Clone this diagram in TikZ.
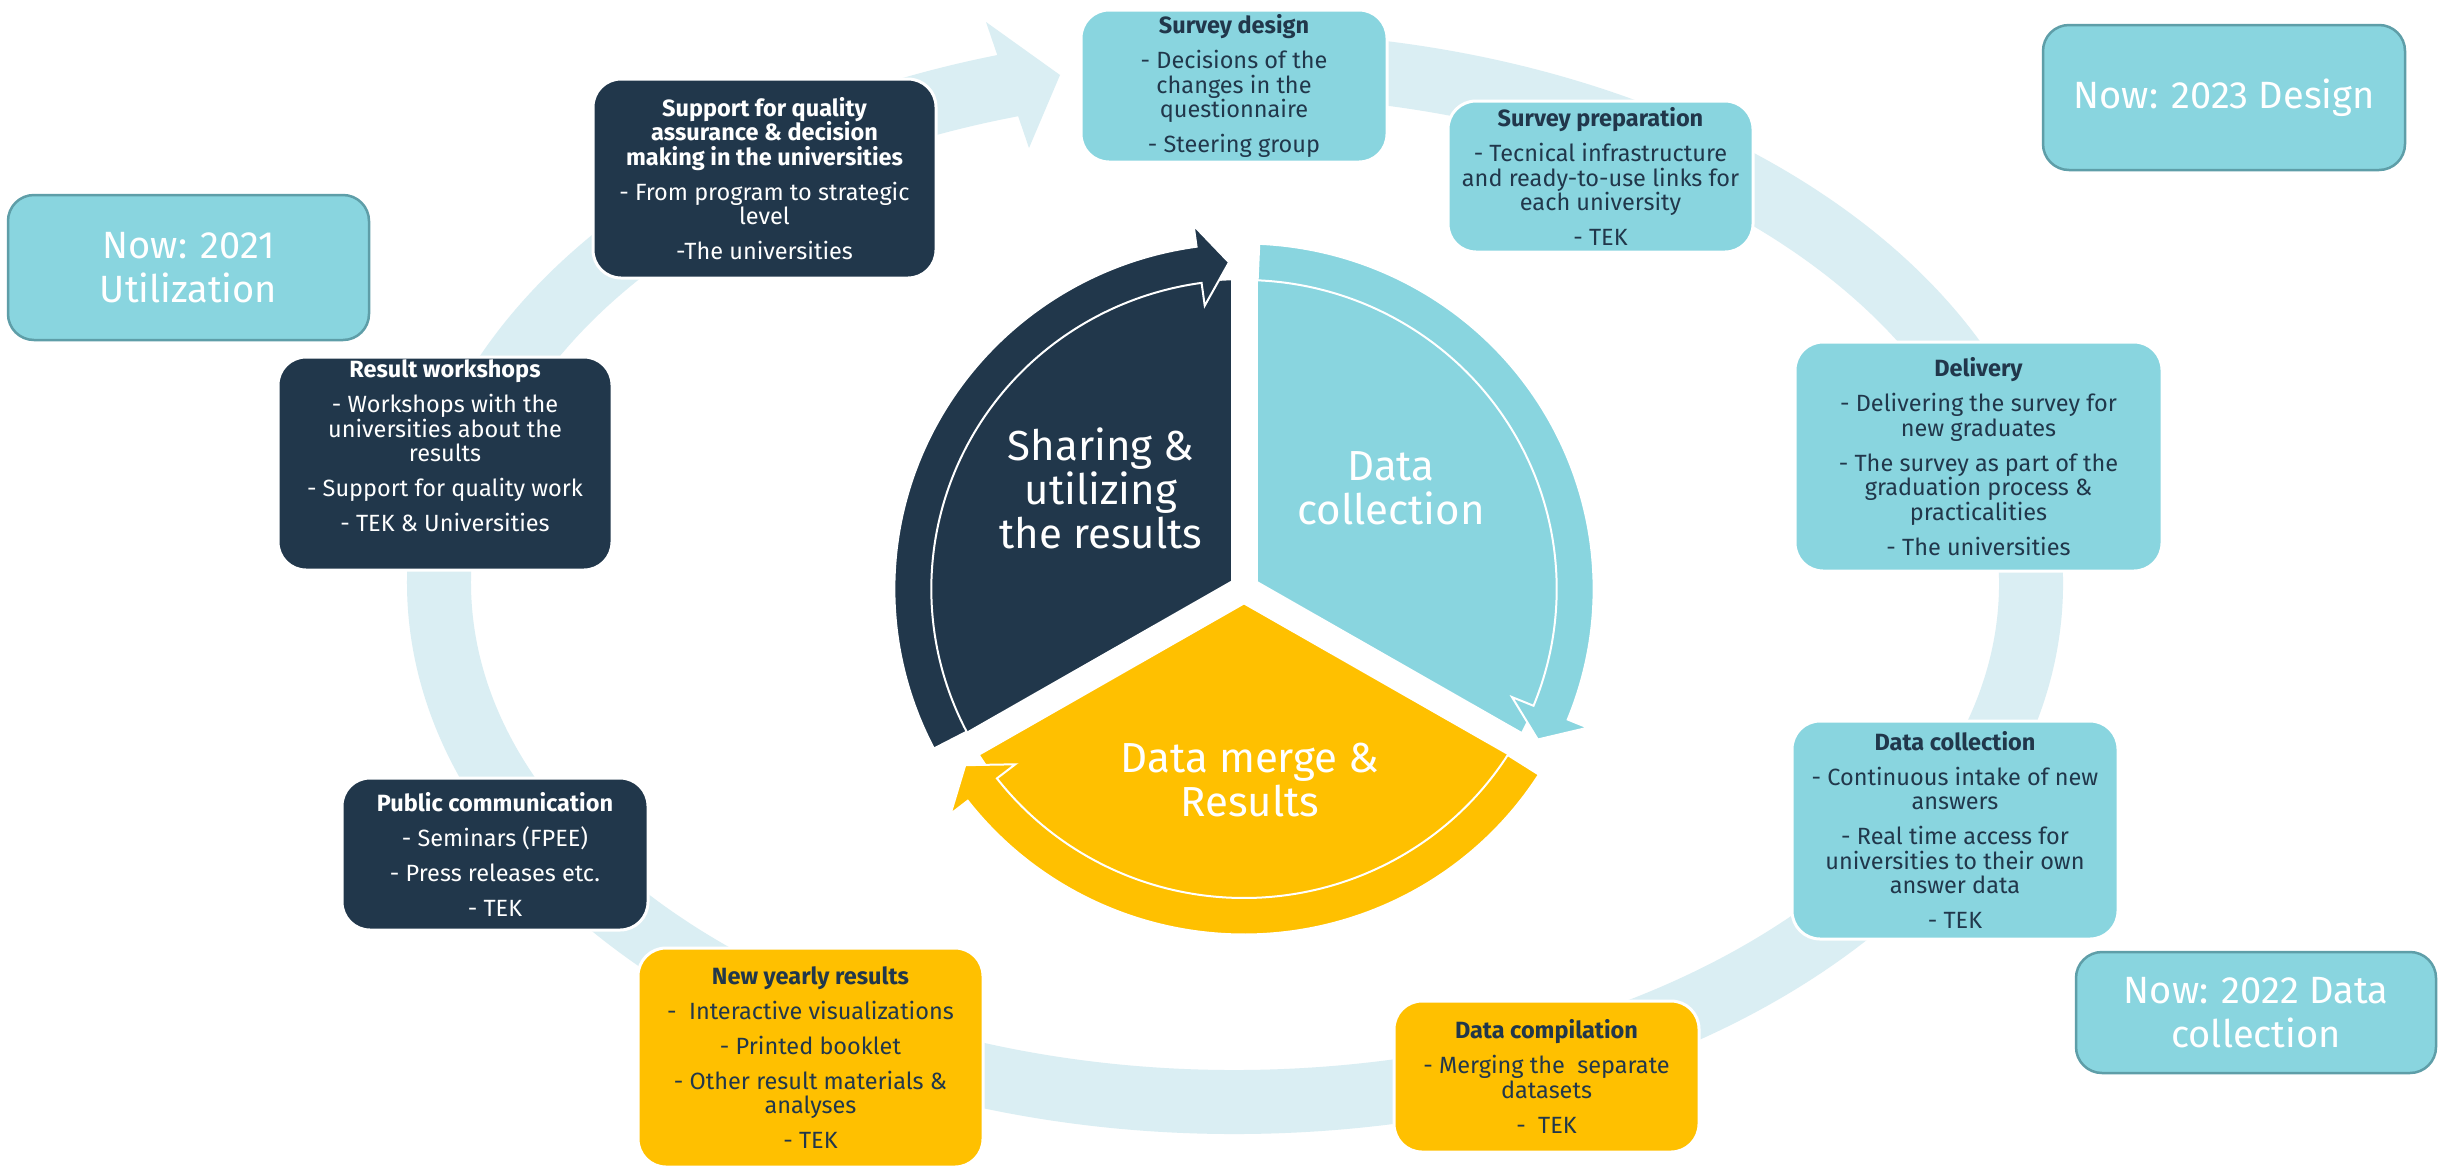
\documentclass[tikz,border=0pt]{standalone}
\usepackage{fontspec}
\setmainfont{Fira Sans}
\definecolor{navy}{HTML}{21374B}
\definecolor{lblue}{HTML}{89D5DF}
\definecolor{gold}{HTML}{FFC000}
\definecolor{ringc}{HTML}{DAEEF3}
\definecolor{nowedge}{HTML}{5E9EA8}
\newcommand\pieseg[3]{%
 \pgfmathsetmacro\aS{#2-2.5}%
 \pgfmathsetmacro\aB{#3+7.8}%
 \pgfmathsetmacro\aT{#3+2.6}%
 \fill[#1] (0,0) -- (#3:309) arc[start angle=#3, end angle=#2, radius=309] -- cycle;
 \filldraw[fill=#1, draw=white, line width=2pt] (\aS:309) arc[start angle=\aS, end angle=\aB, radius=309]
   -- (\aB:286) -- (\aT:327) -- (\aB:367) -- (\aB:345.5)
   arc[start angle=\aB, end angle=\aS, radius=345.5] -- cycle;}
\begin{document}
\begin{tikzpicture}[x=1pt,y=1pt,
 box/.style={rounded corners=28pt, draw=white, line width=3pt, align=center, inner sep=0pt,
   font=\fontsize{23.5}{24.5}\selectfont},
 lbox/.style={box, fill=lblue, text=navy},
 dbox/.style={box, fill=navy, text=white},
 ybox/.style={box, fill=gold, text=navy},
 nowbox/.style={rounded corners=26pt, fill=lblue, draw=nowedge, line width=2.5pt, text=white,
   align=center, inner sep=0pt, font=\fontsize{38}{44}\selectfont},
 pietext/.style={text=white, align=center, font=\fontsize{42}{44}\selectfont},
]
\useasboundingbox (0,0) rectangle (2445,-1168);
\fill[white] (0,0) rectangle (2445,-1168);

% background cycle ring
\coordinate (ringC) at (1235,-583);
\draw[ringc, line width=64pt] (ringC) ++(95:796 and 519)
  arc[start angle=95, end angle=-254.5, x radius=796, y radius=519];
\coordinate (rb1) at (986,-22);
\coordinate (rtip) at (1060,-75);
\coordinate (rb2) at (1029,-148);
\fill[ringc] (rb1) -- (rtip) -- (rb2) -- cycle;

% central pie
\coordinate (pieC) at (1244,-589);
\begin{scope}[shift={(pieC)}, xscale=1.012]
 \pieseg{navy}{210}{90}
 \pieseg{lblue}{90}{-30}
 \pieseg{gold}{330}{210}
 \draw[white, line width=27pt] (0,0) -- (90:400);
 \draw[white, line width=27pt] (0,0) -- (210:400);
 \draw[white, line width=27pt] (0,0) -- (330:400);
\end{scope}
\node[pietext] (share) at (1101,-488) {Sharing \&\\utilizing\\the results};
\node[pietext] (dcol) at (1391,-488) {Data\\collection};
\node[pietext] (dmerge) at (1250,-780) {Data merge \&\\Results};

% step boxes
\node[lbox, minimum width=306pt, minimum height=152pt] (sd) at (1234,-86)
 {\textbf{Survey design}\\[10.5pt]- Decisions of the\\changes in the\\questionnaire\\[10.5pt]- Steering group};
\node[lbox, minimum width=305pt, minimum height=151pt] (sp) at (1600.5,-176.5)
 {\textbf{Survey preparation}\\[10.5pt]- Tecnical infrastructure\\and ready-to-use links for\\each university\\[10.5pt]- TEK};
\node[lbox, minimum width=367pt, minimum height=229pt] (del) at (1978.5,-456.5)
 {\textbf{Delivery}\\[10.5pt]- Delivering the survey for\\new graduates\\[10.5pt]- The survey as part of the\\graduation process \&\\practicalities\\[10.5pt]- The universities};
\node[lbox, minimum width=326pt, minimum height=218pt] (dc) at (1955,-830)
 {\textbf{Data collection}\\[10.5pt]- Continuous intake of new\\answers\\[10.5pt]- Real time access for\\universities to their own\\answer data\\[10.5pt]- TEK};
\node[ybox, minimum width=305pt, minimum height=151pt] (comp) at (1546.5,-1076.5)
 {\textbf{Data compilation}\\[10.5pt]- Merging the\ \ separate\\datasets\\[10.5pt]-\ \ TEK};
\node[ybox, minimum width=345pt, minimum height=219pt] (nyr) at (810.5,-1057.5)
 {\textbf{New yearly results}\\[10.5pt]-\ \ Interactive visualizations\\[10.5pt]- Printed booklet\\[10.5pt]- Other result materials \&\\analyses\\[10.5pt]- TEK};
\node[dbox, minimum width=306pt, minimum height=152pt] (pub) at (495,-854)
 {\textbf{Public communication}\\[10.5pt]- Seminars (FPEE)\\[10.5pt]- Press releases etc.\\[10.5pt]- TEK};
\node[dbox, minimum width=334pt, minimum height=213pt] (rw) at (445,-463.5)
 {\textbf{Result workshops}\\[10.5pt]- Workshops with the\\universities about the\\results\\[10.5pt]- Support for quality work\\[10.5pt]- TEK \& Universities\\[10.5pt]\mbox{}};
\node[dbox, minimum width=343pt, minimum height=199pt] (sup) at (764.5,-178.5)
 {\textbf{Support for quality}\\\textbf{assurance \& decision}\\\textbf{making in the universities}\\[10.5pt]- From program to strategic\\level\\[10.5pt]-The universities};

% status boxes
\node[nowbox, minimum width=362pt, minimum height=145pt] (now23) at (2224,-97.5) {Now: 2023 Design};
\node[nowbox, minimum width=361pt, minimum height=145pt] (now21) at (188.5,-267.5) {Now: 2021\\Utilization};
\node[nowbox, minimum width=360pt, minimum height=121pt] (now22) at (2256,-1012.5) {Now: 2022 Data\\collection};
\end{tikzpicture}
\end{document}
